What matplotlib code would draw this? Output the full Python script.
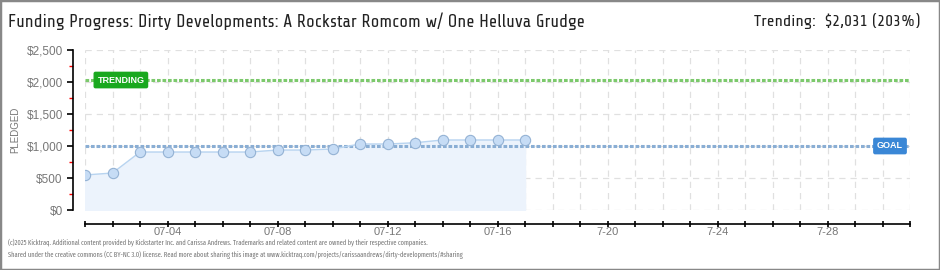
import numpy as np
import matplotlib.pyplot as plt
import matplotlib.ticker as mticker
from matplotlib.patches import Rectangle

# data
days = list(range(1, 18))
pledged = [547, 578, 906, 906, 906, 906, 906, 937, 937, 953,
           1031, 1031, 1051, 1094, 1094, 1094, 1094]
goal = 1000
trending = 2031
x_labels = {4: "07-04", 8: "07-08", 12: "07-12", 16: "07-16",
            20: "7-20", 24: "7-24", 28: "7-28"}
title = "Funding Progress: Dirty Developments: A Rockstar Romcom w/ One Helluva Grudge"
trend_text = "Trending:  $2,031 (203%)"
footer = ["(c)2025 Kicktraq. Additional content provided by Kickstarter Inc. and Carissa Andrews. "
          "Trademarks and related content are owned by their respective companies.",
          "Shared under the creative commons (CC BY-NC 3.0) license. Read more about sharing this "
          "image at www.kicktraq.com/projects/carissaandrews/dirty-developments/#sharing"]

FONT = ["Liberation Sans", "DejaVu Sans"]
TITLE_FONT = ["Share Tech", "Liberation Sans", "DejaVu Sans"]
FOOT_FONT = ["Fira Sans Extra Condensed", "Liberation Sans", "DejaVu Sans"]
W, H = 940, 270

fig = plt.figure(figsize=(W / 100, H / 100), dpi=100)
fig.patch.set_facecolor("white")
fig.patches.append(Rectangle((0, 0), 1, 1, transform=fig.transFigure,
                             fill=False, edgecolor="#888888", lw=2.5))

ax = fig.add_axes([85 / W, 1 - 210 / H, 825 / W, 160 / H])
ax.set_xlim(1, 31)
ax.set_ylim(0, 2500)

# grid
for d in range(1, 32):
    ax.axvline(d, color="#e0e0e0", lw=0.9, ls=(0, (5, 4)), zorder=0)
for v in range(0, 2501, 500):
    ax.axhline(v, color="#e0e0e0", lw=0.9, ls=(0, (5, 4)), zorder=0)

# pledges
ax.fill_between(days, pledged, 0, color="#ecf3fc", zorder=1)
ax.plot(days, pledged, color="#b8d4f0", lw=1, zorder=3)
ax.scatter(days, pledged, s=55, color="#c6dcf5", edgecolor="#94b2d4",
           lw=0.8, zorder=4)

# goal / trending lines
ax.axhline(goal, color="#8aaed4", lw=2.2, ls=(0, (1.2, 0.6)), zorder=2)
ax.axhline(trending, color="#7cc96c", lw=2.2, ls=(0, (1.2, 0.6)), zorder=2)
ax.text(1.45, trending, "TRENDING", color="white", fontsize=6.5,
        family=FONT, fontweight="bold", va="center", ha="left", zorder=5,
        bbox=dict(boxstyle="round,pad=0.35,rounding_size=0.15",
                  fc="#19a81e", ec="#19a81e"))
ax.text(29.8, goal, "GOAL", color="white", fontsize=6.5, family=FONT,
        fontweight="bold", va="center", ha="left", zorder=5,
        bbox=dict(boxstyle="round,pad=0.35,rounding_size=0.15",
                  fc="#3a87d6", ec="#3a87d6"))

# axes styling
for s in ["top", "right"]:
    ax.spines[s].set_visible(False)
ax.spines["left"].set_position(("outward", 9))
ax.spines["bottom"].set_position(("outward", 10))
ax.spines["left"].set_bounds(0, 2500)
ax.spines["bottom"].set_bounds(1, 31)
ax.spines["left"].set_linewidth(1.2)
ax.spines["bottom"].set_linewidth(1.2)

ax.yaxis.set_major_locator(mticker.MultipleLocator(500))
ax.yaxis.set_minor_locator(mticker.MultipleLocator(250))
ax.yaxis.set_major_formatter(mticker.FuncFormatter(lambda v, p: f"${v:,.0f}"))
ax.tick_params(axis="y", which="major", length=4, width=1.2, color="black",
               labelsize=8.5, labelcolor="#777777", direction="out", pad=3)
ax.tick_params(axis="y", which="minor", length=3, width=1, color="red",
               direction="out")

ax.set_xticks(range(1, 32))
ax.set_xticklabels([x_labels.get(d, "") for d in range(1, 32)])
ax.tick_params(axis="x", length=5, width=1.2, color="black", labelsize=8,
               labelcolor="#777777", direction="inout", pad=0)
for lab in ax.get_xticklabels() + ax.get_yticklabels():
    lab.set_family(FONT)

ax.set_ylabel("PLEDGED", fontsize=7, color="#777777", family=FONT)
ax.yaxis.set_label_coords((20 - 85) / 825, 0.5)

# header and footer
fig.text(8 / W, 1 - 21 / H, title, fontsize=12.75, family=TITLE_FONT,
         color="#222222", va="center", ha="left")
fig.text(920 / W, 1 - 21 / H, trend_text, fontsize=12, family=TITLE_FONT,
         color="#222222", va="center", ha="right")
fig.text(8 / W, 1 - 242 / H, footer[0], fontsize=5, family=FOOT_FONT,
         color="#777777", va="center", ha="left")
fig.text(8 / W, 1 - 255 / H, footer[1], fontsize=5, family=FOOT_FONT,
         color="#777777", va="center", ha="left")

fig.savefig("out.png", dpi=100)
